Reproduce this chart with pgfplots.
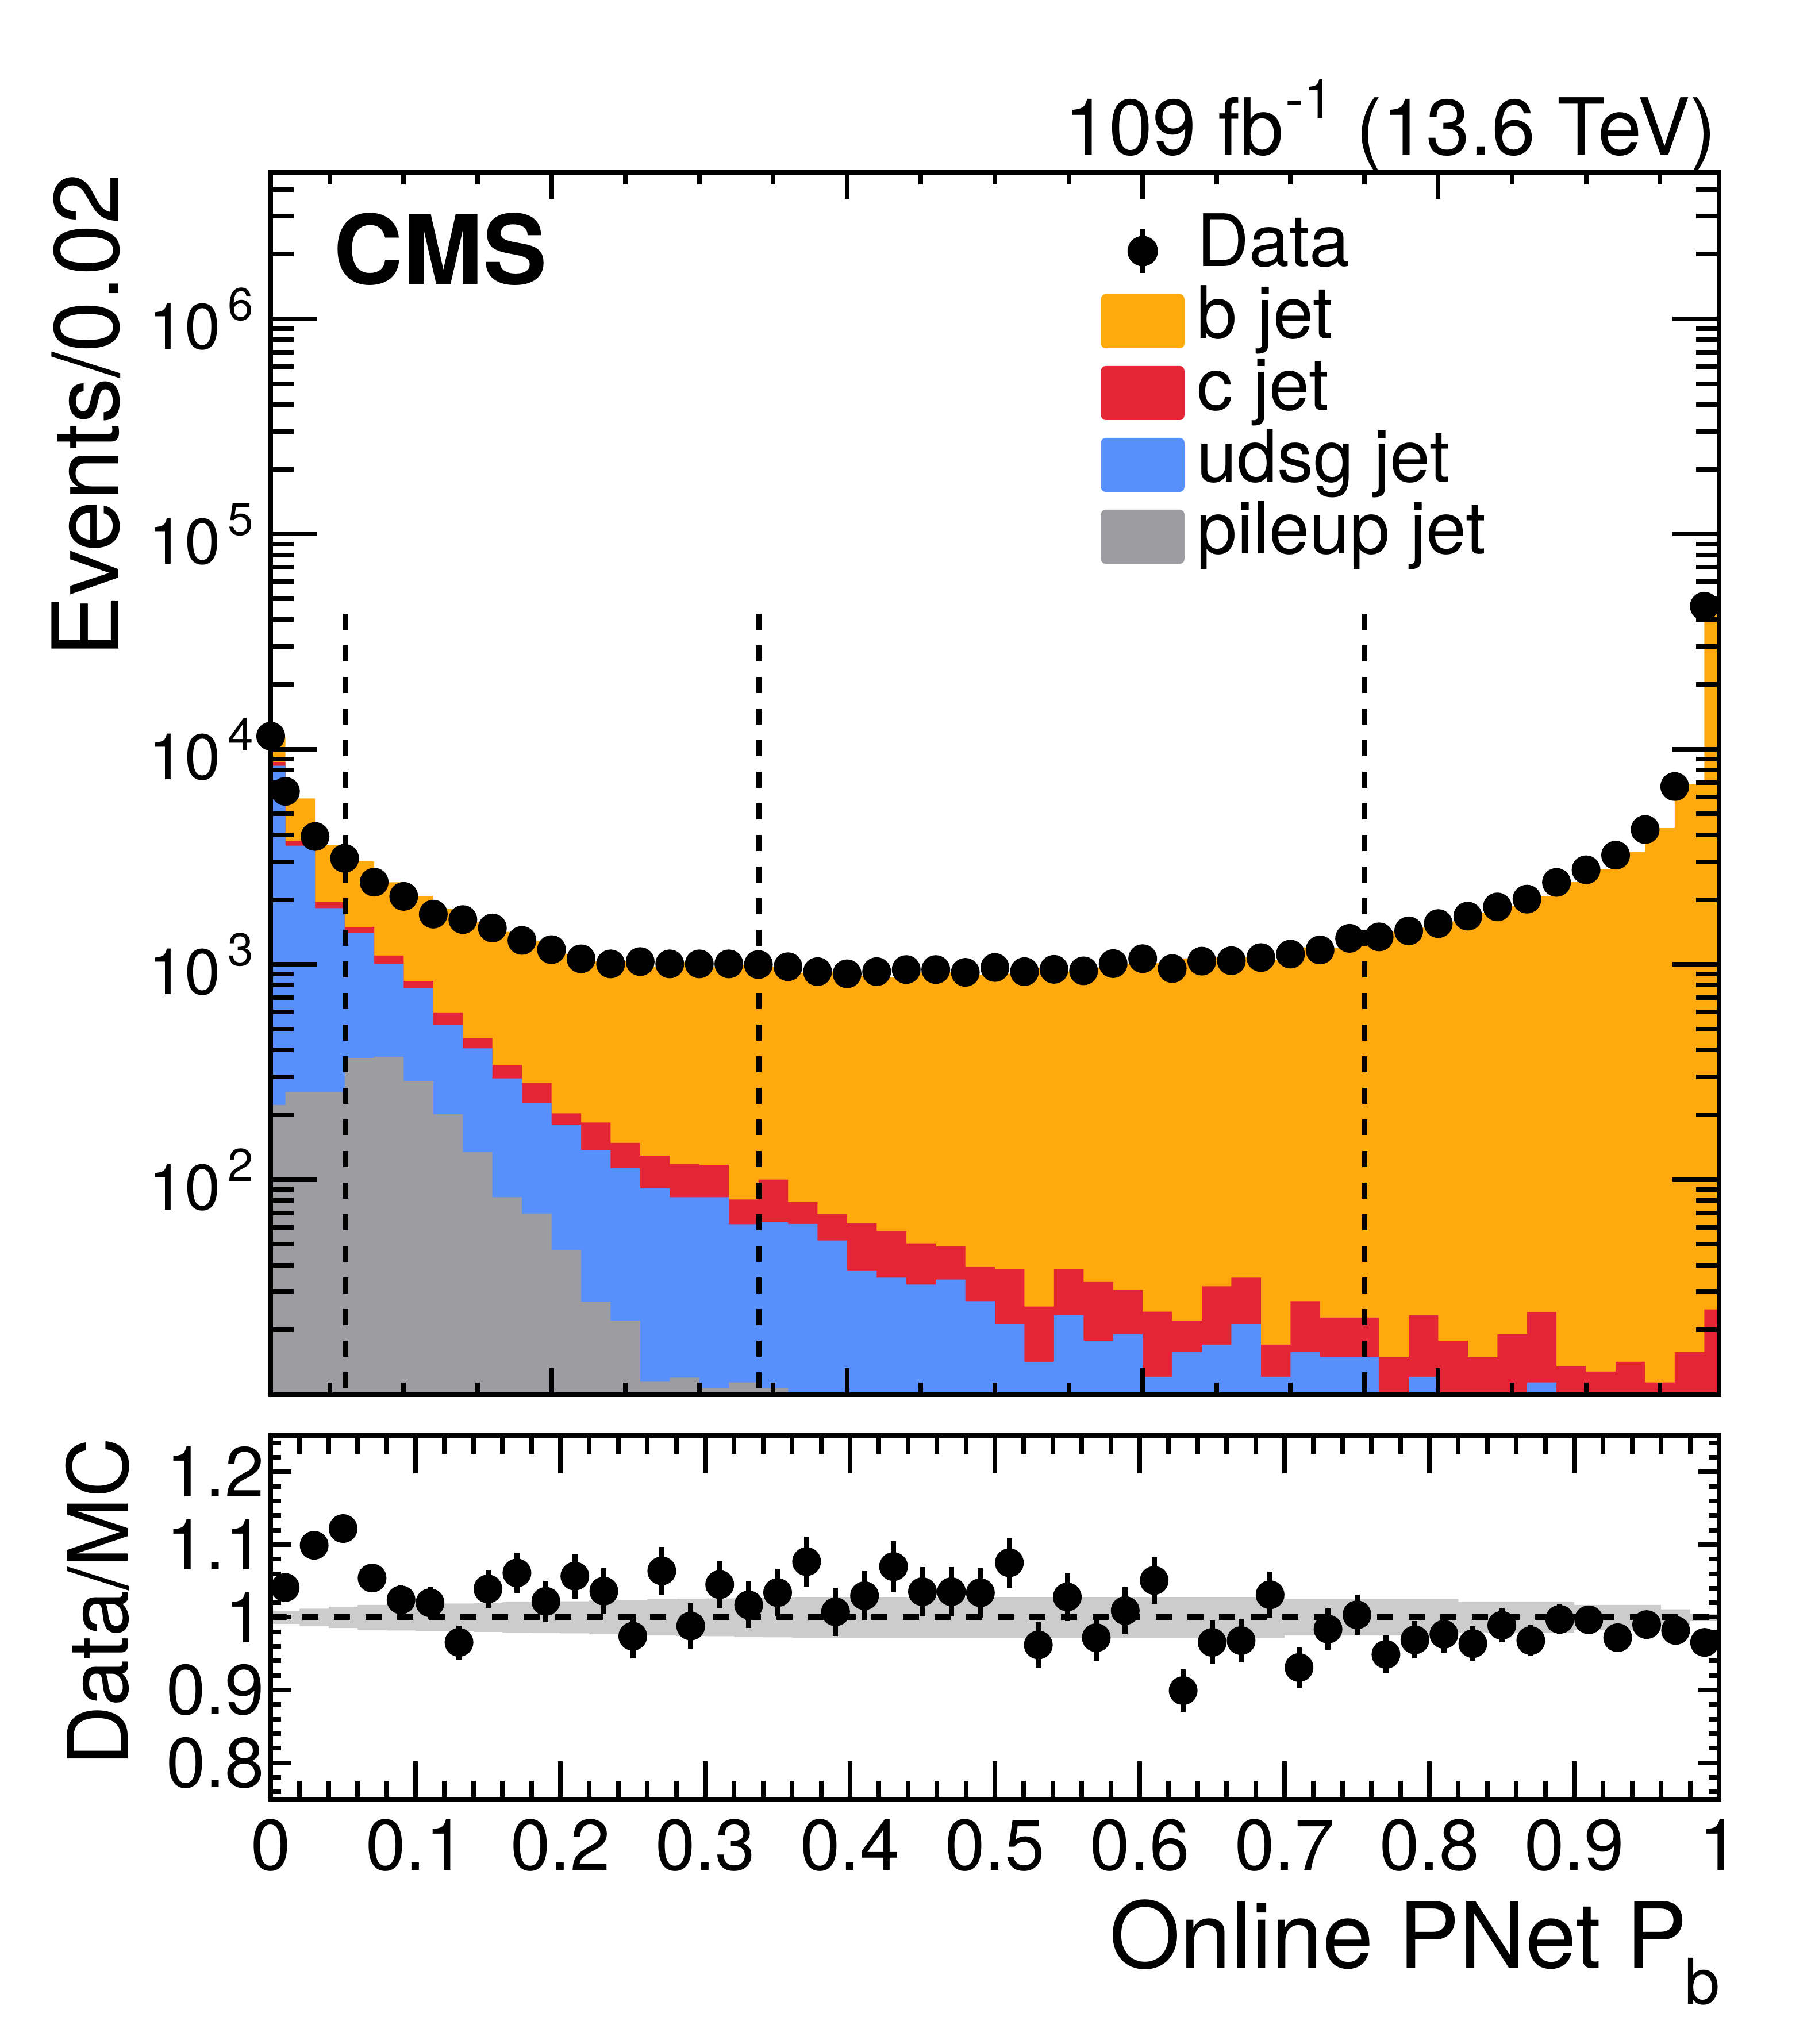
\documentclass[border=0pt]{standalone}
\usepackage{fontspec}
\setmainfont{TeX Gyre Heros}
\usepackage{graphicx}
\usepackage{pgfplots}
\usepackage{pgfplotstable}
\pgfplotsset{compat=1.18}
\definecolor{bcol}{HTML}{FFA90E}
\definecolor{ccol}{HTML}{E42536}
\definecolor{lcol}{HTML}{5790FC}
\definecolor{pcol}{HTML}{9C9CA1}
\definecolor{bandcol}{HTML}{CCCCCC}

% MC stack, cumulative tops: O = total (b on top), R = c top, B = udsg top, G = pileup top
\pgfplotstableread{
x O R B G
0.01 1 1 1 1
0.01 11370 8730 8370 222
0.02 5910 3750 3560 255
0.04 3577 1946 1825 255
0.06 3010 1492 1394 367
0.08 2408 1098 1005 372
0.10 2078 837 773 287
0.12 1808 598 521 201
0.14 1575 454 407 134
0.16 1415 341 295 82.7
0.18 1285 281 226 69.6
0.20 1120 203 180 46.9
0.22 1035 184 137 27
0.24 1040 148 113 22.1
0.26 975 129 91 11.5
0.28 1025 118 82.7 12
0.30 970 117 82.7 10.7
0.32 995 80.8 62 11.4
0.34 975 100 63.3 10.7
0.36 915 78.5 62.2 1
0.38 925 69.0 52.1 1
0.40 885 62.6 37.8 1
0.42 870 57.6 35.0 1
0.44 920 50.5 32.5 1
0.46 920 49.0 34.3 1
0.48 895 39.3 27.2 1
0.50 905 38.4 21.3 1
0.52 965 25.7 14.2 1
0.54 925 38.4 23.4 1
0.56 965 33.4 17.8 1
0.58 1005 30.6 19.1 1
0.60 1015 24.3 12.1 1
0.62 1065 22.1 15.8 1
0.64 1075 31.9 17.1 1
0.66 1078 35.0 21.3 1
0.68 1048 17.1 12.1 1
0.70 1200 27.2 15.8 1
0.72 1190 22.8 14.9 1
0.74 1320 22.8 14.9 1
0.76 1415 14.9 1 1
0.78 1480 23.4 12.1 1
0.80 1585 17.8 1 1
0.82 1740 14.9 1 1
0.84 1872 19.1 1 1
0.86 2080 24.2 11.4 1
0.88 2413 13.5 1 1
0.90 2765 12.8 1 1
0.92 3330 14.2 1 1
0.94 4300 11.4 1 1
0.96 6880 15.8 1 1
0.98 47800 24.9 1 1
0.99 47800 24.9 1 1
0.99 1 1 1 1
}\mctab

\pgfplotstableread{
x y
0.01 11500
0.02 6370
0.04 3930
0.06 3110
0.08 2410
0.10 2070
0.12 1712
0.14 1615
0.16 1476
0.18 1292
0.20 1171
0.22 1061
0.24 1005
0.26 1030
0.28 1005
0.30 1005
0.32 1005
0.34 998
0.36 975
0.38 925
0.40 904
0.42 925
0.44 946
0.46 946
0.48 918
0.50 967
0.52 925
0.54 948
0.56 933
0.58 1008
0.60 1063
0.62 956
0.64 1035
0.66 1040
0.68 1075
0.70 1116
0.72 1167
0.74 1321
0.76 1342
0.78 1431
0.80 1547
0.82 1675
0.84 1849
0.86 2010
0.88 2404
0.90 2752
0.92 3217
0.94 4233
0.96 6708
0.98 46200
}\datatab

\pgfplotstableread{
x r e
0.01 1.041 0.0097
0.03 1.099 0.0138
0.05 1.122 0.0179
0.07 1.054 0.0189
0.09 1.024 0.0209
0.11 1.020 0.0224
0.13 0.9655 0.0233
0.15 1.039 0.0259
0.17 1.061 0.0276
0.19 1.022 0.0284
0.21 1.0566 0.0309
0.23 1.036 0.0318
0.25 0.974 0.0307
0.27 1.0638 0.0331
0.29 0.988 0.0311
0.31 1.045 0.0330
0.33 1.017 0.0320
0.35 1.034 0.0327
0.37 1.0766 0.0345
0.39 1.0076 0.0331
0.41 1.0297 0.0342
0.43 1.0697 0.0352
0.45 1.0352 0.0337
0.47 1.0352 0.0337
0.49 1.0338 0.0341
0.51 1.075 0.0346
0.53 0.962 0.0316
0.55 1.028 0.0334
0.57 0.972 0.0318
0.59 1.0093 0.0318
0.61 1.0507 0.0322
0.63 0.8993 0.0291
0.65 0.9655 0.0300
0.67 0.968 0.0300
0.69 1.031 0.0314
0.71 0.931 0.0279
0.73 0.9838 0.0288
0.75 1.0034 0.0276
0.77 0.949 0.0259
0.79 0.969 0.0256
0.81 0.9766 0.0248
0.83 0.9638 0.0236
0.85 0.989 0.0230
0.87 0.968 0.0216
0.89 0.9972 0.0203
0.91 0.9966 0.0190
0.93 0.972 0.0171
0.95 0.990 0.0152
0.97 0.982 0.0120
0.99 0.9655 0.0045
}\ratiotab

\newcommand\ylab[1]{10\hspace{1.3pt}\raisebox{5pt}{\fontsize{8}{8}\selectfont #1}}

\begin{document}
\begin{tikzpicture}
\useasboundingbox (0,0) rectangle (315.1pt,355.7pt);

% ---------------- main panel ----------------
\begin{axis}[
  at={(47.1pt,113pt)}, anchor=south west,
  scale only axis, width=252pt, height=212.7pt,
  xmin=0.01, xmax=0.99,
  ymode=log, log basis y=10, ymin=10, ymax=4.8e6,
  xtick=\empty,
  ytick={100,1000,10000,100000,1000000},
  yticklabels={\ylab{2},\ylab{3},\ylab{4},\ylab{5},\ylab{6}},
  minor ytick={20,30,40,50,60,70,80,90,200,300,400,500,600,700,800,900,2000,3000,4000,5000,6000,7000,8000,9000,20000,30000,40000,50000,60000,70000,80000,90000,200000,300000,400000,500000,600000,700000,800000,900000,2000000,3000000,4000000},
  major tick length=8.1pt, minor tick length=4pt,
  tick style={line width=0.8pt, black},
  axis line style={line width=0.85pt},
  yticklabel style={font=\fontsize{11.2}{11.2}\selectfont, inner sep=0pt, anchor=east, xshift=-2.8pt},
  ylabel={Events/0.02},
  ylabel style={font=\fontsize{16}{16}\selectfont, at={(axis description cs:-0.1048,1)}, anchor=base east, inner sep=0pt},
  axis on top,
  legend style={at={(0.5733,0.9652)}, anchor=north west, draw=none, fill=none,
    inner sep=0pt, outer sep=0pt, row sep=0pt, column sep=2.2pt,
    font=\fontsize{12.6}{12.6}\selectfont,
    cells={anchor=base west},
    nodes={inner sep=0pt, text height=9pt, text depth=3.5pt}},
]
\addplot[forget plot, fill=bcol, draw=none, const plot mark left] table[x=x, y=O] {\mctab};
\addplot[forget plot, fill=ccol, draw=none, const plot mark left] table[x=x, y=R] {\mctab};
\addplot[forget plot, fill=lcol, draw=none, const plot mark left] table[x=x, y=B] {\mctab};
\addplot[forget plot, fill=pcol, draw=none, const plot mark left] table[x=x, y=G] {\mctab};

\addplot[forget plot, black, line width=0.9pt, dash pattern=on 2.75pt off 2.75pt] coordinates {(0.0607,42600) (0.0607,10)};
\addplot[forget plot, black, line width=0.9pt, dash pattern=on 2.75pt off 2.75pt] coordinates {(0.3405,42600) (0.3405,10)};
\addplot[forget plot, black, line width=0.9pt, dash pattern=on 2.75pt off 2.75pt] coordinates {(0.7501,42600) (0.7501,10)};

\addplot[forget plot, only marks, mark=*, mark size=2.3pt, black] table[x=x, y=y] {\datatab};

\addlegendimage{legend image code/.code={
  \path[draw=none, fill=none] (0pt,-1.7pt) rectangle (14.5pt,7.7pt);
  \draw[black, line width=0.8pt] (7.25pt,-1.06pt) -- (7.25pt,6.46pt);
  \fill[black] (7.25pt,2.7pt) circle (2.45pt);}}
\addlegendentry{Data}
\addlegendimage{legend image code/.code={\fill[bcol, draw=none, rounded corners=0.8pt] (0pt,-1.7pt) rectangle (14.5pt,7.7pt);}}
\addlegendentry{b jet}
\addlegendimage{legend image code/.code={\fill[ccol, draw=none, rounded corners=0.8pt] (0pt,-1.7pt) rectangle (14.5pt,7.7pt);}}
\addlegendentry{c jet}
\addlegendimage{legend image code/.code={\fill[lcol, draw=none, rounded corners=0.8pt] (0pt,-1.7pt) rectangle (14.5pt,7.7pt);}}
\addlegendentry{udsg jet}
\addlegendimage{legend image code/.code={\fill[pcol, draw=none, rounded corners=0.8pt] (0pt,-1.7pt) rectangle (14.5pt,7.7pt);}}
\addlegendentry{pileup jet}
\end{axis}

% main panel x ticks (separate lengths)
\begin{axis}[
  at={(47.1pt,113pt)}, anchor=south west,
  scale only axis, width=252pt, height=212.7pt,
  xmin=0.01, xmax=0.99, ymin=0, ymax=1,
  ytick=\empty,
  xtick={0.2,0.4,0.6,0.8},
  minor xtick={0.05,0.1,0.15,0.25,0.3,0.35,0.45,0.5,0.55,0.65,0.7,0.75,0.85,0.9,0.95},
  xticklabel=\empty,
  major tick length=4.6pt, minor tick length=2.1pt,
  tick style={line width=0.8pt, black},
  axis line style={line width=0.85pt},
]
\end{axis}

% ---------------- ratio panel ----------------
\begin{axis}[
  at={(47.1pt,42.6pt)}, anchor=south west,
  scale only axis, width=252pt, height=63.3pt,
  xmin=0, xmax=1, ymin=0.75, ymax=1.25,
  xtick=\empty,
  ytick={0.8,0.9,1,1.1,1.2},
  yticklabels={0.8,0.9,1,1.1,1.2},
  minor ytick={0.76,0.78,0.82,0.84,0.86,0.88,0.92,0.94,0.96,0.98,1.02,1.04,1.06,1.08,1.12,1.14,1.16,1.18,1.22,1.24},
  major tick length=3.6pt, minor tick length=1.8pt,
  tick style={line width=0.8pt, black},
  axis line style={line width=0.85pt},
  yticklabel style={font=\fontsize{12.3}{12.3}\selectfont, inner sep=0pt, anchor=east, xshift=-0.9pt},
  ylabel={Data/MC},
  ylabel style={font=\fontsize{14.5}{14.5}\selectfont, at={(axis description cs:-0.0988,0.997)}, anchor=base east, inner sep=0pt},
  axis on top,
]
\addplot[fill=bandcol, draw=none] coordinates {
(0,1.009) (0.02,1.009) (0.02,1.012) (0.04,1.012) (0.04,1.0147) (0.06,1.0147) (0.06,1.017) (0.08,1.017)
(0.08,1.018) (0.10,1.018) (0.10,1.019) (0.14,1.019) (0.14,1.020) (0.16,1.020) (0.16,1.021) (0.18,1.021)
(0.18,1.0215) (0.20,1.0215) (0.20,1.022) (0.22,1.022) (0.22,1.0235) (0.24,1.0235) (0.24,1.024) (0.26,1.024)
(0.26,1.025) (0.28,1.025) (0.28,1.0255) (0.30,1.0255) (0.30,1.026) (0.32,1.026) (0.32,1.027) (0.34,1.027)
(0.34,1.0275) (0.36,1.0275) (0.36,1.028) (0.70,1.028) (0.70,1.025) (0.82,1.025) (0.82,1.021) (0.90,1.021)
(0.90,1.017) (0.96,1.017) (0.96,1.011) (0.98,1.011) (0.98,1.005) (1,1.005)
(1,0.995) (0.98,0.995) (0.98,0.989) (0.96,0.989) (0.96,0.983) (0.90,0.983) (0.90,0.979) (0.82,0.979)
(0.82,0.975) (0.70,0.975) (0.70,0.972) (0.36,0.972) (0.36,0.9725) (0.34,0.9725) (0.34,0.973) (0.32,0.973)
(0.32,0.974) (0.30,0.974) (0.30,0.9745) (0.28,0.9745) (0.28,0.975) (0.26,0.975) (0.26,0.976) (0.24,0.976)
(0.24,0.9765) (0.22,0.9765) (0.22,0.978) (0.20,0.978) (0.20,0.9785) (0.18,0.9785) (0.18,0.979) (0.16,0.979)
(0.16,0.980) (0.14,0.980) (0.14,0.981) (0.10,0.981) (0.10,0.982) (0.08,0.982) (0.08,0.983) (0.06,0.983)
(0.06,0.9853) (0.04,0.9853) (0.04,0.988) (0.02,0.988) (0.02,0.991) (0,0.991)
} -- cycle;
\addplot[black, line width=1pt, dash pattern=on 2.75pt off 2.75pt] coordinates {(0,1) (1,1)};
\addplot[only marks, mark=*, mark size=2.3pt, black,
  error bars/.cd, y dir=both, y explicit, error mark=none,
  error bar style={line width=0.9pt, black}]
  table[x=x, y=r, y error=e] {\ratiotab};
\end{axis}

% ratio panel x ticks and labels
\begin{axis}[
  at={(47.1pt,42.6pt)}, anchor=south west,
  scale only axis, width=252pt, height=63.3pt,
  xmin=0, xmax=1, ymin=0.75, ymax=1.25,
  ytick=\empty,
  xtick={0,0.1,0.2,0.3,0.4,0.5,0.6,0.7,0.8,0.9,1},
  xticklabels={0,0.1,0.2,0.3,0.4,0.5,0.6,0.7,0.8,0.9,1},
  minor xtick={0.02,0.04,0.06,0.08,0.12,0.14,0.16,0.18,0.22,0.24,0.26,0.28,0.32,0.34,0.36,0.38,0.42,0.44,0.46,0.48,0.52,0.54,0.56,0.58,0.62,0.64,0.66,0.68,0.72,0.74,0.76,0.78,0.82,0.84,0.86,0.88,0.92,0.94,0.96,0.98},
  major tick length=6.6pt, minor tick length=3.2pt,
  tick style={line width=0.8pt, black},
  axis line style={line width=0.85pt},
  xticklabel style={font=\fontsize{12.5}{12.5}\selectfont, inner sep=0pt, anchor=north, yshift=-3.3pt},
  xlabel={Online PNet P\hspace{-0.4pt}\raisebox{-6.3pt}{\fontsize{11}{11}\selectfont b}},
  xlabel style={font=\fontsize{15.9}{15.9}\selectfont, at={(axis description cs:1.0016,-0.4629)}, anchor=base east, inner sep=0pt},
]
\end{axis}

% texts
\node[anchor=base east, inner sep=0pt, font=\fontsize{13.7}{13.7}\selectfont] at (298.8pt,328.7pt)
  {109 fb\hspace{0.3pt}\raisebox{6.4pt}{\fontsize{9.5}{9.5}\selectfont -1} (13.6 TeV)};
\node[anchor=base west, inner sep=0pt, font=\fontsize{16.7}{16.7}\selectfont\bfseries] at (57.85pt,306.2pt) {CMS};
\end{tikzpicture}
\end{document}
